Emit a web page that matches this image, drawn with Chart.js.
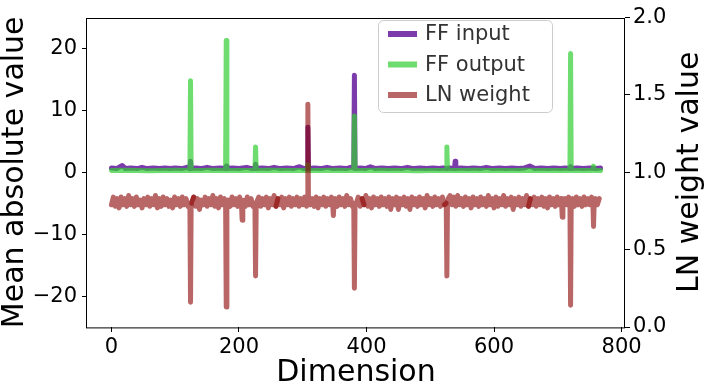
<!DOCTYPE html>
<html lang="en">
<head>
<meta charset="UTF-8">
<title>FF / LN dims</title>
<style>
  body { margin: 0; background: #fff; }
  canvas { display: block; }
</style>
</head>
<body>
<canvas id="myChart" width="706" height="388"></canvas>
<script src="https://cdn.jsdelivr.net/npm/chart.js"></script>
<script>
// values
const seriesLabels = ['FF input', 'FF output', 'LN weight'];
const xTicks = [0, 200, 400, 600, 800];
const yLeftTicks = [-20, -10, 0, 10, 20];
const yRightTicks = [0, 0.5, 1.0, 1.5, 2.0];

const ffInputDims = [0, 8, 17, 22, 30, 40, 48, 56, 66, 75, 84, 92, 100, 110, 118, 123, 124, 125, 132, 140, 150, 160, 170, 179, 180, 181,
  190, 200, 212, 220, 225, 226, 227, 236, 246, 255, 265, 275, 285, 295, 302, 307, 308, 309, 318, 328, 338, 348, 358, 368, 375, 380, 381, 382,
  390, 398, 406, 414, 424, 434, 444, 454, 464, 474, 484, 494, 504, 514, 520, 526, 530, 538, 539, 540, 548, 558, 568, 578, 588, 598,
  608, 618, 628, 638, 648, 656, 664, 674, 684, 694, 704, 712, 719, 720, 721, 730, 740, 750, 760, 767];
const ffInputVals = [0.7, 0.6, 1.1, 0.6, 0.7, 0.6, 0.8, 0.6, 0.7, 0.6, 0.7, 0.6, 0.7, 0.6, 0.8, 0.6, 1.8, 0.6, 0.7, 0.6, 0.8, 0.6, 0.7, 0.6, 1.0, 0.6,
  0.7, 0.6, 0.8, 0.6, 0.6, 1.3, 0.6, 0.7, 0.6, 0.8, 0.6, 0.7, 0.6, 0.9, 0.6, 0.6, 7.3, 0.6, 0.7, 0.6, 0.8, 0.6, 0.7, 0.6, 0.8, 0.7, 15.7, 0.6,
  0.7, 0.6, 0.9, 0.6, 0.7, 0.6, 0.7, 0.6, 0.8, 0.6, 0.7, 0.6, 0.7, 0.6, 0.7, 0.6, 0.7, 0.6, 1.8, 0.6, 0.7, 0.6, 0.7, 0.6, 0.8, 0.6,
  0.7, 0.6, 0.7, 0.6, 0.7, 1.0, 0.6, 0.7, 0.6, 0.7, 0.6, 0.7, 0.6, 0.9, 0.6, 0.7, 0.6, 0.7, 0.6, 0.7];

const ffOutputDims = [0, 20, 40, 60, 80, 100, 123, 124, 125, 140, 160, 179, 180, 181, 200, 225, 226, 227, 250, 270, 290, 307, 308, 309,
  330, 350, 370, 380, 381, 382, 400, 420, 440, 460, 480, 500, 525, 526, 527, 550, 570, 590, 610, 630, 650, 670, 690, 719, 720, 721,
  740, 755, 756, 757, 767];
const ffOutputVals = [0.3, 0.35, 0.3, 0.25, 0.3, 0.35, 0.3, 14.8, 0.3, 0.3, 0.35, 0.3, 21.3, 0.3, 0.3, 0.3, 4.1, 0.3, 0.35, 0.3, 0.3, 0.3, 1.2, 0.3,
  0.3, 0.35, 0.3, 0.3, 9.1, 0.3, 0.3, 0.35, 0.3, 0.3, 0.25, 0.3, 0.3, 4.1, 0.3, 0.3, 0.35, 0.3, 0.3, 0.3, 0.35, 0.3, 0.3, 0.3, 19.2, 0.3,
  0.3, 0.3, 1.0, 0.3, 0.3];

// LN weight background, one value every 3 dimensions (0, 3, 6, ... 765)
const lnStep = 3;
const lnVals = [
  0.79, 0.84, 0.78, 0.83, 0.77, 0.84, 0.79, 0.83, 0.78, 0.85, 0.79, 0.83, 0.78, 0.84, 0.79, 0.82,
  0.77, 0.83, 0.79, 0.84, 0.78, 0.83, 0.79, 0.85, 0.77, 0.83, 0.78, 0.84, 0.79, 0.83, 0.78, 0.82,
  0.77, 0.84, 0.79, 0.83, 0.78, 0.84, 0.79, 0.83, 0.78, 0.81, 0.80, 0.84, 0.78, 0.83, 0.76, 0.82,
  0.79, 0.84, 0.78, 0.83, 0.79, 0.85, 0.78, 0.83, 0.77, 0.84, 0.79, 0.83, 0.80, 0.82, 0.78, 0.84,
  0.79, 0.83, 0.78, 0.84, 0.79, 0.82, 0.78, 0.84, 0.79, 0.83, 0.78, 0.80, 0.80, 0.84, 0.78, 0.83,
  0.79, 0.84, 0.77, 0.83, 0.79, 0.85, 0.78, 0.83, 0.79, 0.84, 0.77, 0.83, 0.79, 0.84, 0.78, 0.83,
  0.79, 0.84, 0.78, 0.83, 0.79, 0.84, 0.78, 0.80, 0.79, 0.83, 0.78, 0.84, 0.77, 0.83, 0.79, 0.84,
  0.78, 0.83, 0.79, 0.84, 0.79, 0.83, 0.78, 0.84, 0.79, 0.83, 0.78, 0.85, 0.79, 0.83, 0.78, 0.80,
  0.80, 0.84, 0.78, 0.83, 0.79, 0.85, 0.78, 0.83, 0.77, 0.84, 0.79, 0.83, 0.78, 0.84, 0.79, 0.83,
  0.78, 0.84, 0.76, 0.83, 0.79, 0.84, 0.76, 0.83, 0.79, 0.84, 0.78, 0.83, 0.76, 0.84, 0.79, 0.83,
  0.78, 0.84, 0.79, 0.83, 0.77, 0.85, 0.79, 0.83, 0.78, 0.84, 0.79, 0.83, 0.78, 0.84, 0.79, 0.80,
  0.83, 0.85, 0.79, 0.84, 0.78, 0.85, 0.79, 0.83, 0.78, 0.84, 0.79, 0.83, 0.77, 0.84, 0.79, 0.83,
  0.78, 0.84, 0.79, 0.83, 0.78, 0.85, 0.79, 0.83, 0.77, 0.84, 0.78, 0.83, 0.79, 0.85, 0.78, 0.83,
  0.79, 0.84, 0.76, 0.83, 0.79, 0.84, 0.78, 0.83, 0.79, 0.85, 0.78, 0.83, 0.79, 0.84, 0.78, 0.83,
  0.79, 0.84, 0.78, 0.83, 0.77, 0.84, 0.79, 0.83, 0.78, 0.84, 0.79, 0.83, 0.79, 0.83, 0.79, 0.84,
  0.80, 0.83, 0.78, 0.84, 0.79, 0.83, 0.78, 0.84, 0.79, 0.83, 0.79, 0.84, 0.80, 0.83, 0.79, 0.83
];
// single-dimension outliers of LN weight (with their direct neighbours)
const lnSpikeDims = [123, 124, 125, 179, 180, 181, 204, 205, 206, 225, 226, 227, 307, 308, 309, 347, 348, 349,
  380, 381, 382, 525, 526, 527, 706, 707, 708, 719, 720, 721, 755, 756, 757];
const lnSpikeVals = [0.80, 0.16, 0.80, 0.81, 0.13, 0.79, 0.78, 0.69, 0.79, 0.79, 0.33, 0.80, 0.80, 1.44, 0.80, 0.79, 0.72, 0.80,
  0.79, 0.25, 0.80, 0.80, 0.33, 0.81, 0.79, 0.71, 0.80, 0.80, 0.14, 0.81, 0.80, 0.65, 0.80];
// matplotlib draws long paths in chunks; the overlaps show as darker spots
const lnChunkBreaks = [129, 259, 395, 524, 657];

const colors = ['rgba(90, 10, 150, 0.8)', 'rgba(50, 205, 50, 0.7)', 'rgba(139, 0, 0, 0.6)'];

function toPoints(xs, ys) {
  return xs.map((x, i) => ({ x: x, y: ys[i] }));
}

// merge background grid and outliers into one sorted path
const spikeSet = new Set(lnSpikeDims);
const lnPoints = lnVals.map((v, i) => ({ x: i * lnStep, y: v }))
  .filter(p => !spikeSet.has(p.x))
  .concat(toPoints(lnSpikeDims, lnSpikeVals))
  .sort((a, b) => a.x - b.x);

// split into overlapping pieces
const lnChunks = [];
let start = 0;
lnChunkBreaks.forEach(b => {
  let end = lnPoints.findIndex(p => p.x >= b);
  lnChunks.push(lnPoints.slice(start, end + 1));
  start = end - 1;
});
lnChunks.push(lnPoints.slice(start));

const fontFamily = "'DejaVu Sans', sans-serif";
Chart.defaults.font.family = fontFamily;
Chart.defaults.color = '#000';

function fmtLeft(v) {
  return v < 0 ? '\u2212' + Math.abs(v) : String(v);
}

// legend + frame + right axis title, drawn like matplotlib does
const extras = {
  id: 'extras',
  afterDraw(chart) {
    const ctx = chart.ctx;
    const a = chart.chartArea;
    ctx.save();
    ctx.strokeStyle = '#000';
    ctx.lineWidth = 1;
    ctx.strokeRect(Math.round(a.left) - 0.5, Math.round(a.top) + 0.5, a.right - a.left, a.bottom - a.top);

    // right title, reads bottom to top
    ctx.translate(698, (a.top + a.bottom) / 2);
    ctx.rotate(-Math.PI / 2);
    ctx.font = '30px ' + fontFamily;
    ctx.textAlign = 'center';
    ctx.textBaseline = 'alphabetic';
    ctx.fillStyle = '#000';
    ctx.fillText('LN weight value', 0, 0);
    ctx.restore();

    // legend box
    ctx.save();
    ctx.beginPath();
    ctx.roundRect(378.5, 20.5, 174, 92, 5);
    ctx.fillStyle = 'rgba(255,255,255,0.8)';
    ctx.fill();
    ctx.strokeStyle = '#cccccc';
    ctx.lineWidth = 1;
    ctx.stroke();
    ctx.font = '21px ' + fontFamily;
    ctx.textBaseline = 'middle';
    ctx.textAlign = 'left';
    seriesLabels.forEach((lab, i) => {
      const y = 34 + i * 30.5;
      ctx.strokeStyle = colors[i];
      ctx.lineWidth = 6;
      ctx.beginPath();
      ctx.moveTo(388, y);
      ctx.lineTo(417, y);
      ctx.stroke();
      ctx.fillStyle = '#333';
      ctx.fillText(lab, 425, y + 1);
    });
    ctx.restore();
  }
};

const lineStyle = {
  showLine: true,
  borderWidth: 5,
  borderJoinStyle: 'round',
  borderCapStyle: 'round',
  pointRadius: 0,
  tension: 0
};

const datasets = [
  { label: seriesLabels[0], data: toPoints(ffInputDims, ffInputVals), yAxisID: 'y', order: 3, borderColor: colors[0] },
  { label: seriesLabels[1], data: toPoints(ffOutputDims, ffOutputVals), yAxisID: 'y', order: 2, borderColor: colors[1] }
].concat(lnChunks.map(c => ({ label: seriesLabels[2], data: c, yAxisID: 'y2', order: 1, borderColor: colors[2] })))
 .map(d => Object.assign(d, lineStyle, { backgroundColor: d.borderColor }));

new Chart(document.getElementById('myChart'), {
  type: 'scatter',
  data: { datasets: datasets },
  options: {
    responsive: false,
    animation: false,
    devicePixelRatio: 1,
    layout: { padding: { top: 12, left: 0, right: 0, bottom: 0 } },
    plugins: { legend: { display: false }, tooltip: { enabled: false } },
    scales: {
      x: {
        type: 'linear',
        min: -38.35,
        max: 805.35,
        afterBuildTicks: s => { s.ticks = xTicks.map(v => ({ value: v })); },
        afterFit: s => { s.height = 61; },
        border: { display: false },
        grid: { drawOnChartArea: false, drawTicks: true, tickLength: 5, tickColor: '#000' },
        ticks: { font: { size: 21 }, padding: 3, maxRotation: 0, color: '#000' },
        title: { display: true, text: 'Dimension', font: { size: 30, lineHeight: 1 }, padding: 0, color: '#000' }
      },
      y: {
        position: 'left',
        min: -25,
        max: 25,
        afterBuildTicks: s => { s.ticks = yLeftTicks.map(v => ({ value: v })); },
        afterFit: s => { s.width = 87; },
        border: { display: false },
        grid: { drawOnChartArea: false, drawTicks: true, tickLength: 5, tickColor: '#000' },
        ticks: { font: { size: 21 }, padding: 5, color: '#000', callback: v => fmtLeft(v) },
        title: { display: true, text: 'Mean absolute value', font: { size: 30, lineHeight: 1 }, padding: 0, color: '#000' }
      },
      y2: {
        position: 'right',
        min: 0,
        max: 2,
        afterBuildTicks: s => { s.ticks = yRightTicks.map(v => ({ value: v })); },
        afterFit: s => { s.width = 81; },
        border: { display: false },
        grid: { drawOnChartArea: false, drawTicks: true, tickLength: 5, tickColor: '#000' },
        ticks: { font: { size: 21 }, padding: 3, color: '#000', callback: v => v.toFixed(1) }
      }
    }
  },
  plugins: [extras]
});
</script>
</body>
</html>
